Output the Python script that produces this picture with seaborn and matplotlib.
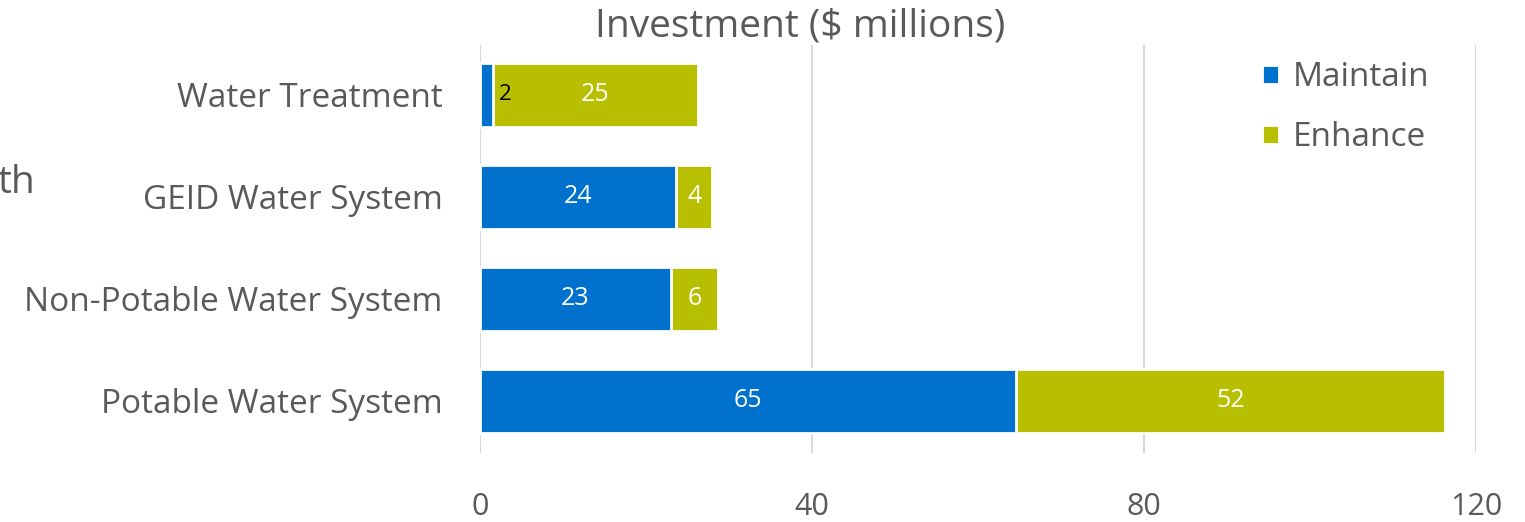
import matplotlib
matplotlib.use("Agg")
from matplotlib import pyplot as plt
import seaborn as sns
import numpy as np

categories = ['Water Treatment', 'GEID Water System', 'Non-Potable Water System', 'Potable Water System']
maintain = [1.5, 23.6, 23.0, 64.6]
enhance = [24.7, 4.4, 5.7, 51.7]
xticks = [0, 40, 80, 120]

blue = '#0072CE'
olive = '#B7BF00'
grey = '#595959'

sns.set_style('white')
plt.rcParams['font.family'] = ['Open Sans', 'DejaVu Sans']

total = [m + e for m, e in zip(maintain, enhance)]

fig = plt.figure(figsize=(15.25, 5.22), dpi=100)
ax = fig.add_axes([0.3148, 0.1322, 0.6531, 0.7816])

# totals first in olive, maintain drawn on top -> stacked look
sns.barplot(x=total, y=categories, color=olive, orient='h', width=0.63,
            edgecolor='white', linewidth=2, saturation=1, label='Enhance', ax=ax)
sns.barplot(x=maintain, y=categories, color=blue, orient='h', width=0.63,
            edgecolor='white', linewidth=2, saturation=1, label='Maintain', ax=ax)

for i in range(len(categories)):
    m = maintain[i]
    e = enhance[i]
    if m < 5:
        ax.text(m + 0.8, i, '{:.0f}'.format(m), color='black', fontsize=16, va='center', ha='left')
    else:
        ax.text(m / 2, i, '{:.0f}'.format(m), color='white', fontsize=18, va='center', ha='center')
    ax.text(m + e / 2, i, '{:.0f}'.format(e), color='white', fontsize=18, va='center', ha='center')

ax.set_xlim(0, 120)
ax.set_ylim(3.51, -0.49)
ax.set_xticks(xticks)
ax.grid(axis='x', color='#D9D9D9', linewidth=1.5)
ax.set_axisbelow(True)
for s in ax.spines.values():
    s.set_visible(False)
ax.tick_params(axis='x', length=0, pad=28, labelsize=22, labelcolor=grey)
ax.tick_params(axis='y', length=0, pad=27, labelsize=24, labelcolor=grey)
ax.set(xlabel=None, ylabel=None)

handles, labels = ax.get_legend_handles_labels()
order = [labels.index('Maintain'), labels.index('Enhance')]
lg = ax.legend([handles[k] for k in order], [labels[k] for k in order],
               loc='upper left', bbox_to_anchor=(1249 / 1525, 1 - 48 / 522),
               bbox_transform=fig.transFigure, fontsize=24, labelcolor=grey,
               handlelength=0.5, handleheight=0.5, handletextpad=0.4,
               labelspacing=0.8, frameon=True, framealpha=1,
               facecolor='white', edgecolor='none', borderaxespad=0)

fig.text(800 / 1525, 1 - 27 / 522, 'Investment ($ millions)', ha='center', va='center',
         fontsize=28, color=grey)
fig.text(-0.002, 1 - 183 / 522, 'th', ha='left', va='center', fontsize=28, color=grey)

fig.savefig('out.png', dpi=100)
